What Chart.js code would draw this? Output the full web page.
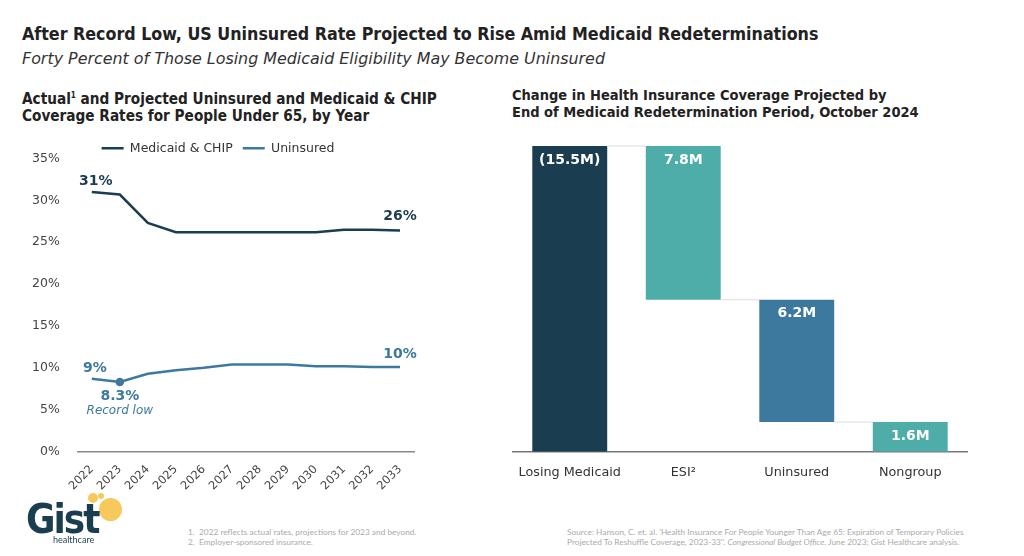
<!DOCTYPE html>
<html>
<head>
<meta charset="utf-8">
<script src="https://cdn.jsdelivr.net/npm/chart.js@4.4.1/dist/chart.umd.min.js"></script>
<style>
  body { margin: 0; width: 1024px; height: 556px; background: #fff; position: relative; overflow: hidden; font-family: "DejaVu Sans", sans-serif; }
  .abs { position: absolute; white-space: nowrap; }
  #title { left: 22px; top: 24px; font: bold 17.7px "DejaVu Sans Condensed", sans-serif; color: #222; }
  #subtitle { left: 22px; top: 49px; font: oblique 15.9px "DejaVu Sans", sans-serif; color: #333; }
  .head { font-family: "DejaVu Sans Condensed", sans-serif; font-weight: bold; color: #222; line-height: 17px; }
  #headL { left: 22px; top: 87px; font-size: 15.2px; }
  #headR { left: 512px; top: 87px; font-size: 14.5px; }
  .foot { font: 8.3px Lato, sans-serif; color: #aaa; line-height: 10px; }
  #footL { left: 188px; top: 527px; }
  #footR { left: 567px; top: 527px; }
  #leftBox { left: 22px; top: 132px; width: 404px; height: 364px; }
  #rightBox { left: 505px; top: 140px; width: 470px; height: 345px; }
  #logo { left: 25px; top: 492px; width: 110px; height: 60px; }
</style>
</head>
<body>
<div id="title" class="abs">After Record Low, US Uninsured Rate Projected to Rise Amid Medicaid Redeterminations</div>
<div id="subtitle" class="abs">Forty Percent of Those Losing Medicaid Eligibility May Become Uninsured</div>
<div id="headL" class="abs head">Actual<sup style="font-size:8px">1</sup> and Projected Uninsured and Medicaid &amp; CHIP<br>Coverage Rates for People Under 65, by Year</div>
<div id="headR" class="abs head">Change in Health Insurance Coverage Projected by<br>End of Medicaid Redetermination Period, October 2024</div>

<div id="leftBox" class="abs"><canvas id="lineChart"></canvas></div>
<div id="rightBox" class="abs"><canvas id="barChart"></canvas></div>

<div id="logo" class="abs">
  <div class="abs" style="left:74px;top:6px;width:23px;height:23px;border-radius:50%;background:#f7c85c;"></div>
  <div class="abs" style="left:63px;top:1px;width:10px;height:10px;border-radius:50%;background:#f7c85c;"></div>
  <div class="abs" style="left:73px;top:1px;width:6px;height:6px;border-radius:50%;background:#f7c85c;"></div>
  <div class="abs" style="left:1px;top:4px;font:bold 40px 'DejaVu Sans Condensed', sans-serif;color:#1b3d50;letter-spacing:-2px;">Gist</div>
  <div class="abs" style="left:28px;top:42px;font:9px Lato, sans-serif;color:#1b3d50;">healthcare</div>
</div>

<div id="footL" class="abs foot">1.&nbsp; 2022 reflects actual rates, projections for 2023 and beyond.<br>2.&nbsp; Employer-sponsored insurance.</div>
<div id="footR" class="abs foot">Source: Hanson, C. et. al. 'Health Insurance For People Younger Than Age 65: Expiration of Temporary Policies<br>Projected To Reshuffle Coverage, 2023-33''. <i>Congressional Budget Office</i>. June 2023; Gist Healthcare analysis.</div>

<script>
// ---------------- DATA ----------------
const years = ['2022', '2023', '2024', '2025', '2026', '2027', '2028', '2029', '2030', '2031', '2032', '2033'];
const medicaidRate = [31.0, 30.7, 27.3, 26.2, 26.2, 26.2, 26.2, 26.2, 26.2, 26.5, 26.5, 26.4];
const uninsuredRate = [8.7, 8.3, 9.3, 9.7, 10.0, 10.4, 10.4, 10.4, 10.2, 10.2, 10.1, 10.1];
const rateTicks = [0, 5, 10, 15, 20, 25, 30, 35];

const coverageCats = ['Losing Medicaid', 'ESI\u00B2', 'Uninsured', 'Nongroup'];
const coverageChange = [15.5, 7.8, 6.2, 1.6];
const coverageLabels = ['(15.5M)', '7.8M', '6.2M', '1.6M'];

const navy = '#1b3d50', blue = '#3d799f', teal = '#4fada9';
const bodyFont = 'DejaVu Sans';

// ---------------- LINE CHART ----------------
// pull the plot area a bit closer to the legend
const tightLegend = {
    id: 'tightLegend',
    beforeLayout(chart) {
        const lg = chart.legend;
        if (lg && !lg._tight) {
            const fit = lg.fit;
            lg.fit = function () { fit.call(this); this.height -= 6; };
            lg._tight = true;
        }
    }
};

const lineLabels = {
    id: 'lineLabels',
    afterDatasetsDraw(chart) {
        const ctx = chart.ctx;
        const m = chart.getDatasetMeta(0).data;
        const u = chart.getDatasetMeta(1).data;
        ctx.save();
        ctx.textAlign = 'center';
        ctx.textBaseline = 'middle';
        ctx.font = 'bold 14px ' + bodyFont;
        ctx.fillStyle = navy;
        ctx.fillText('31%', m[0].x + 4, m[0].y - 11);
        ctx.fillText('26%', m[11].x, m[11].y - 14);
        ctx.fillStyle = blue;
        ctx.fillText('9%', u[0].x + 3, u[0].y - 10);
        ctx.fillText('8.3%', u[1].x, u[1].y + 14);
        ctx.fillText('10%', u[11].x, u[11].y - 13);
        ctx.font = 'italic 12px ' + bodyFont;
        ctx.fillText('Record low', u[1].x, u[1].y + 29);
        ctx.restore();
    }
};

new Chart(document.getElementById('lineChart'), {
    type: 'line',
    data: {
        labels: years,
        datasets: [
            { label: 'Medicaid & CHIP', data: medicaidRate, borderColor: navy, backgroundColor: navy, borderWidth: 2.5, pointRadius: 0, tension: 0 },
            { label: 'Uninsured', data: uninsuredRate, borderColor: blue, backgroundColor: blue, borderWidth: 2.5, tension: 0,
              pointRadius: uninsuredRate.map((v, i) => i === 1 ? 3 : 0) }
        ]
    },
    options: {
        responsive: true,
        maintainAspectRatio: false,
        animation: false,
        layout: { padding: { right: 12 } },
        plugins: {
            legend: {
                position: 'top',
                labels: { usePointStyle: true, pointStyle: 'line', pointStyleWidth: 22, color: '#333', font: { family: bodyFont, size: 12.5 }, padding: 10 }
            },
            tooltip: { enabled: false }
        },
        scales: {
            x: {
                offset: true,
                grid: { display: false },
                border: { color: '#888', width: 1.5 },
                ticks: { color: '#444', font: { family: bodyFont, size: 11.5 }, minRotation: 45, maxRotation: 45 }
            },
            y: {
                min: 0, max: 35,
                afterBuildTicks: (axis) => { axis.ticks = rateTicks.map(v => ({ value: v })); },
                grid: { display: false },
                border: { display: false },
                ticks: { color: '#444', font: { family: bodyFont, size: 12.5 }, padding: 10, callback: v => v + '%' }
            }
        }
    },
    plugins: [tightLegend, lineLabels]
});

// ---------------- WATERFALL CHART ----------------
let running = 0;
const floating = coverageChange.map((v, i) => {
    if (i === 0) { running = v; return [0, v]; }
    const top = running;
    running = Math.max(0, top - v);
    return [running, top];
});
const barColors = [navy, teal, blue, teal];

const waterfallExtras = {
    id: 'waterfallExtras',
    afterDatasetsDraw(chart) {
        const ctx = chart.ctx;
        const bars = chart.getDatasetMeta(0).data;
        const ys = chart.scales.y;
        ctx.save();
        ctx.strokeStyle = '#dddddd';
        ctx.lineWidth = 1;
        for (let i = 0; i < bars.length - 1; i++) {
            const level = i === 0 ? floating[0][1] : floating[i][0];
            const y = ys.getPixelForValue(level);
            ctx.beginPath();
            ctx.moveTo(bars[i].x + bars[i].width / 2, y);
            ctx.lineTo(bars[i + 1].x - bars[i + 1].width / 2, y);
            ctx.stroke();
        }
        ctx.fillStyle = '#fff';
        ctx.font = 'bold 14px ' + bodyFont;
        ctx.textAlign = 'center';
        ctx.textBaseline = 'middle';
        bars.forEach((b, i) => {
            const top = ys.getPixelForValue(floating[i][1]);
            ctx.fillText(coverageLabels[i], b.x, top + 14);
        });
        ctx.restore();
    }
};

new Chart(document.getElementById('barChart'), {
    type: 'bar',
    data: {
        labels: coverageCats,
        datasets: [{ data: floating, backgroundColor: barColors, categoryPercentage: 1, barPercentage: 0.66, borderSkipped: false }]
    },
    options: {
        responsive: true,
        maintainAspectRatio: false,
        animation: false,
        layout: { padding: { left: 8, right: 8, top: 6 } },
        plugins: { legend: { display: false }, tooltip: { enabled: false } },
        scales: {
            x: {
                grid: { display: false },
                border: { color: '#777', width: 1.5 },
                ticks: { color: '#333', font: { family: bodyFont, size: 12.8 }, padding: 5 }
            },
            y: { display: false, min: 0, max: 15.5 }
        }
    },
    plugins: [waterfallExtras]
});
</script>
</body>
</html>
